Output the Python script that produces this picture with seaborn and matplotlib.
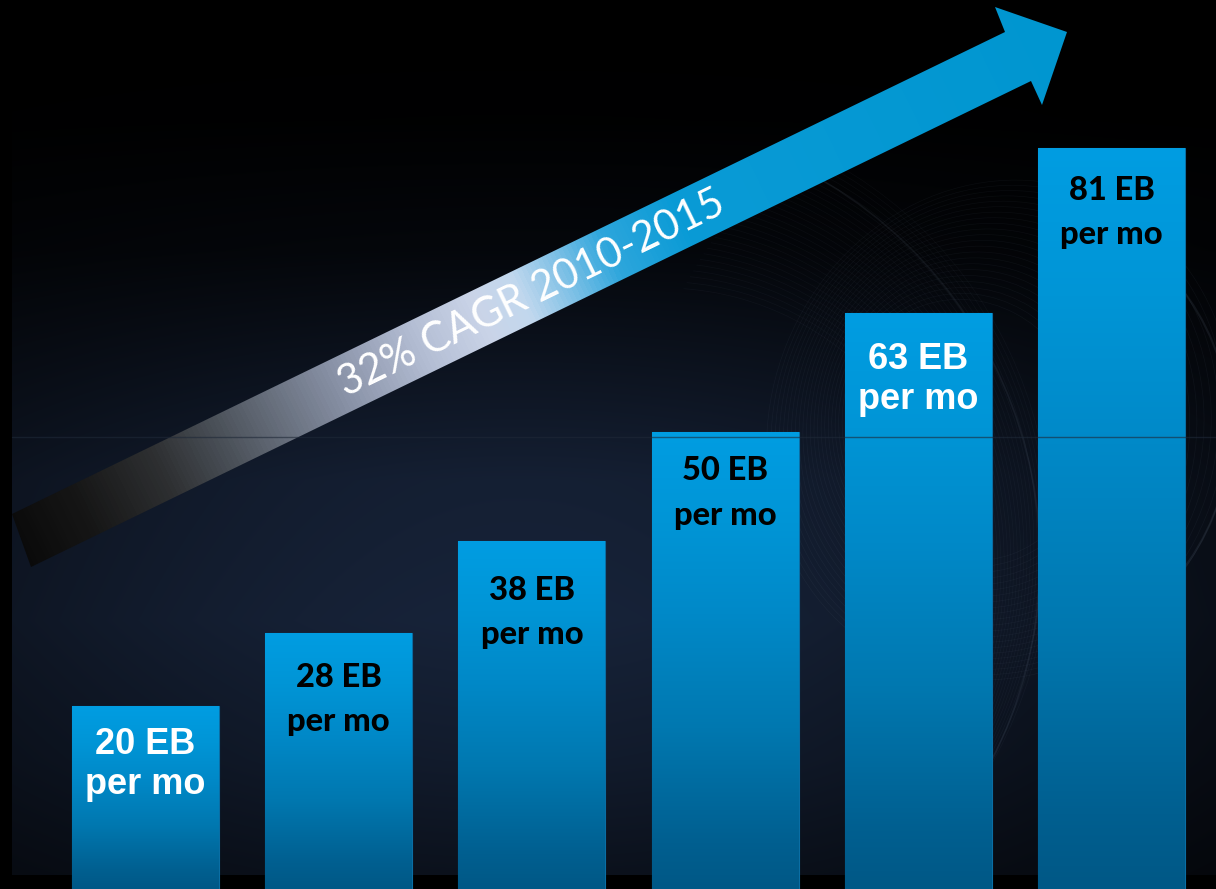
import numpy as np
import pandas as pd
import matplotlib
matplotlib.use("Agg")
import matplotlib.pyplot as plt
import seaborn as sns
from matplotlib.colors import LinearSegmentedColormap
from matplotlib.patches import Polygon, Circle, Ellipse, Rectangle, Arc

# data
years = ["2010", "2011", "2012", "2013", "2014", "2015"]
traffic_eb = [20, 28, 38, 50, 63, 81]
label_unit = "EB"
label_sub = "per mo"
cagr_text = "32% CAGR 2010-2015"

# label styles (white ones are in Arial-like font, black ones Calibri-like)
label_colors = ["white", "black", "black", "black", "white", "black"]
label_drops = [(48, 88), (54, 98), (59, 103), (49, 93), (56, 96), (52, 96)]

sns.set_style("white")
plt.rcParams["font.family"] = ["Lato", "DejaVu Sans"]

W, H = 1216, 889
fig = plt.figure(figsize=(W / 100, H / 100), dpi=100, facecolor="black")

# ---- background layer in pixel coords ----
bg = fig.add_axes([0, 0, 1, 1], zorder=0)
bg.set_xlim(0, W)
bg.set_ylim(H, 0)
bg.axis("off")

yy, xx = np.mgrid[0:H, 0:W].astype(float)
vert = np.interp(yy, [0, 120, 250, 380, 480, 620, 760, 875],
                 [0, 0.03, 0.2, 0.6, 0.9, 1.0, 0.78, 0.5])
horiz = np.exp(-((xx - 520) / 750) ** 2)
base = np.array([23, 35, 57]) / 255
img = (vert * horiz)[..., None] * base
img[:, :12] = 0
img[875:, :] = 0
bg.imshow(img, extent=[0, W, H, 0], aspect="auto", interpolation="bilinear", zorder=0)

# faint wire mesh on the right side
rect = Rectangle((12, 0), W - 12, 875, transform=bg.transData)
globe = Circle((1040, 470), 400, transform=bg.transData)
mesh = []
for k, r in enumerate(np.linspace(300, 440, 30)):
    mesh.append(Ellipse((600 + 0.4 * (440 - r), 560 + 0.3 * (440 - r)), 2 * r, 2 * r * 1.05,
                        angle=15 + k, fill=False, lw=0.5, color="#a8bcd8", alpha=0.045))
for k, r in enumerate(np.linspace(120, 230, 22)):
    mesh.append(Ellipse((1000 - 0.3 * (230 - r), 430), 2 * r, 2 * r * 1.1, angle=-20 + 2 * k,
                        fill=False, lw=0.5, color="#a8bcd8", alpha=0.05))
for m in mesh:
    m.set_zorder(1)
    bg.add_patch(m)
    m.set_clip_path(globe)
edges = [Arc((600, 560), 880, 880, theta1=-62, theta2=40, lw=1.2, color="#a8bcd8", alpha=0.08),
         Arc((1000, 430), 460, 460, theta1=-70, theta2=70, lw=1.5, color="#a8bcd8", alpha=0.09)]
for e in edges:
    e.set_zorder(1)
    bg.add_patch(e)
    e.set_clip_path(rect)

# growth arrow with gradient
arrow_pts = [(12, 514), (1005, 32), (995, 7), (1067, 32), (1042, 105), (1031, 81), (31, 567)]
arrow = Polygon(arrow_pts, closed=True, facecolor="none", edgecolor="none", zorder=2)
bg.add_patch(arrow)
stops_x = [12, 80, 160, 220, 280, 340, 420, 480, 520, 565, 610, 680, 1067]
stops_c = ["#0a0a0a", "#161616", "#2e3032", "#4a5058", "#6a7280", "#8a93a8",
           "#b4bed4", "#cad4e8", "#c2d8ee", "#7cc0e6", "#2ea6dc", "#0a9bd6", "#0096d0"]
pos = [(x - 12) / (1067 - 12) for x in stops_x]
arrow_cmap = LinearSegmentedColormap.from_list("arrow", list(zip(pos, stops_c)))
ux, uy = np.cos(np.radians(25.9)), -np.sin(np.radians(25.9))
t = ((xx - 12) * ux + (yy - 540) * uy) / ((1067 - 12) * ux + (32 - 540) * uy)
im = bg.imshow(np.clip(t, 0, 1), extent=[0, W, H, 0], aspect="auto", cmap=arrow_cmap,
               vmin=0, vmax=1, zorder=2)
im.set_clip_path(arrow)
bg.text(532, 294, cagr_text, rotation=25.9, rotation_mode="anchor", ha="center",
        va="center", color="white", fontsize=30, family=["Lato", "DejaVu Sans"], zorder=3)

# ---- bar chart ----
ax = fig.add_axes([0, 0, 1, 1], zorder=1)
ax.patch.set_alpha(0)
df = pd.DataFrame({"year": years, "traffic": traffic_eb})
sns.barplot(data=df, x="year", y="traffic", ax=ax, width=0.76, color="#009de2",
            saturation=1, edgecolor="#0a6ea4", linewidth=0.8, zorder=2)

bar_cmap = LinearSegmentedColormap.from_list(
    "bar", [(0, "#005886"), (0.1, "#005f90"), (0.35, "#0078b0"), (0.6, "#0089c8"),
            (0.8, "#0095d6"), (1, "#009de2")])
grad = np.linspace(0, 1, 256).reshape(-1, 1)
for p in ax.patches:
    x0, w, h = p.get_x(), p.get_width(), p.get_height()
    g = ax.imshow(grad, extent=[x0, x0 + w, 0, h], origin="lower", aspect="auto",
                  cmap=bar_cmap, zorder=2.5)
    g.set_clip_path(p)

for i, v in enumerate(traffic_eb):
    if label_colors[i] == "white":
        fam, size, wt = ["Liberation Sans", "DejaVu Sans"], 26, "bold"
    else:
        fam, size, wt = ["Lato", "DejaVu Sans"], 23.5, "black"
    d1, d2 = label_drops[i]
    ax.annotate(f"{v} {label_unit}", xy=(i, v), xytext=(0, -d1), textcoords="offset pixels",
                ha="center", va="baseline", color=label_colors[i], fontsize=size,
                fontweight=wt, family=fam, zorder=4)
    ax.annotate(label_sub, xy=(i, v), xytext=(0, -d2), textcoords="offset pixels",
                ha="center", va="baseline", color=label_colors[i], fontsize=size,
                fontweight=wt, family=fam, zorder=4)

# thin guide line across the slide
ax.plot([12 / W, 1], [1 - 437 / H] * 2, transform=ax.transAxes, color=(0.12, 0.16, 0.22),
        alpha=0.6, lw=1, zorder=3)

ax.set_xlim(-145.5 / 193.2, (W - 145.5) / 193.2)
ax.set_ylim(0, H / 9.15)
ax.axis("off")

fig.savefig("out.png", dpi=100, facecolor="black")
